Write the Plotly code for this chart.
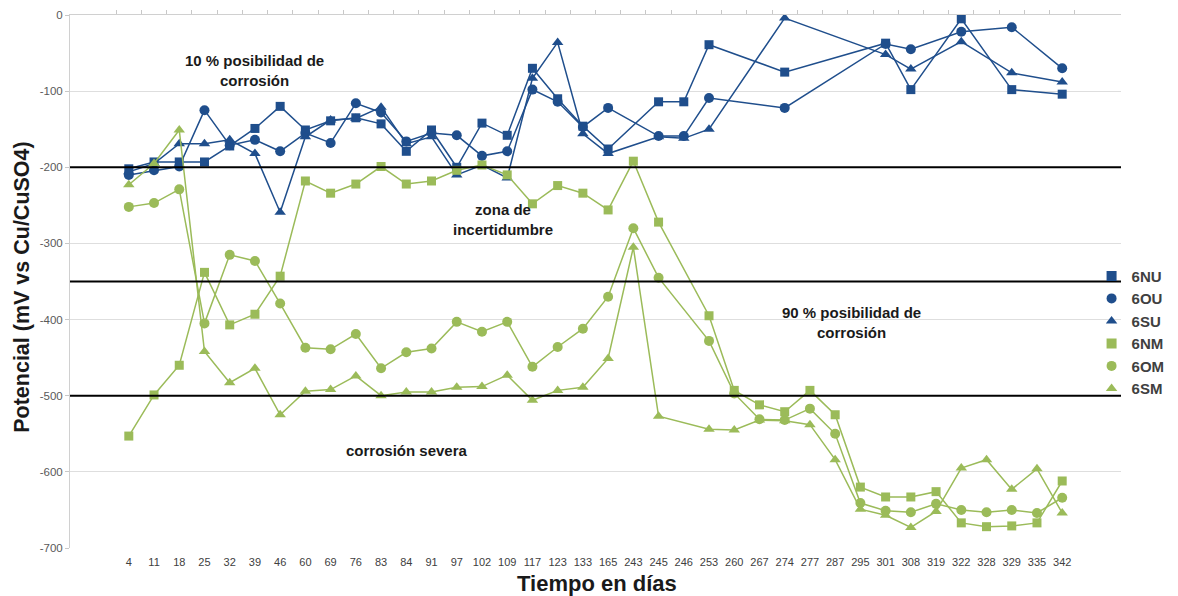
import plotly.graph_objects as go

# ---------------- data ----------------
dias = ["4", "11", "18", "25", "32", "39", "46", "60", "69", "76", "83", "84", "91", "97",
        "102", "109", "117", "123", "133", "165", "243", "245", "246", "253", "260", "267",
        "274", "277", "287", "295", "301", "308", "319", "322", "328", "329", "335", "342"]

s_6NU = [-202, -193, -193, -193, -172, -149, -120, -151, -139, -135, -143, -179, -151, -200,
         -142, -158, -70, -110, -146, -176, None, -114, -114, -39, None, None,
         -75, None, None, None, -37, -98, None, -5, None, -98, None, -104]
s_6OU = [-210, -204, -199, -125, -171, -164, -179, -155, -168, -116, -128, -166, -155, -158,
         -185, -179, -98, -114, -147, -122, None, -159, -159, -109, None, None,
         -122, None, None, None, -38, -45, None, -22, None, -16, None, -70]
s_6SU = [-206, -195, -169, -169, -164, -182, -259, -160, -138, -136, -121, -169, -160, -210,
         -197, -214, -83, -36, -156, -182, None, -160, -162, -150, None, None,
         -4, None, None, None, -52, -71, None, -35, None, -76, None, -88]
s_6NM = [-553, -499, -460, -338, -407, -393, -343, -218, -234, -222, -199, -222, -218, -204,
         -197, -210, -248, -224, -234, -256, -192, -272, None, -395, -493, -512,
         -521, -493, -525, -620, -633, -633, -626, -667, -672, -671, -667, -612]
s_6OM = [-252, -247, -229, -405, -315, -323, -379, -437, -439, -419, -464, -443, -438, -403,
         -416, -403, -462, -436, -412, -370, -280, -345, None, -428, -497, -531,
         -532, -517, -550, -641, -651, -653, -642, -650, -653, -650, -654, -634]
s_6SM = [-223, -195, -151, -442, -483, -464, -525, -494, -492, -474, -500, -495, -495, -489,
         -488, -473, -506, -493, -489, -451, -305, -527, None, -544, -545, -532,
         -533, -538, -584, -649, -657, -673, -652, -595, -584, -623, -596, -654]

umbrales = [-200, -350, -500]

y_tickvals = [0, -100, -200, -300, -400, -500, -600, -700]
y_ticktext = ["0", "-100", "-200", "-300", "-400", "-500", "-600", "-700"]

series_names = ["6NU", "6OU", "6SU", "6NM", "6OM", "6SM"]
series_vals = [s_6NU, s_6OU, s_6SU, s_6NM, s_6OM, s_6SM]

BLUE = "#1F4E8C"
GREEN = "#9BBB59"
FONT = "Liberation Sans, Arial, sans-serif"

styles = [
    (BLUE, "square", 9),
    (BLUE, "circle", 10),
    (BLUE, "triangle-up", 10),
    (GREEN, "square", 9),
    (GREEN, "circle", 10),
    (GREEN, "triangle-up", 10),
]

fig = go.Figure()

for name, vals, (col, sym, sz) in zip(series_names, series_vals, styles):
    fig.add_trace(go.Scatter(
        x=dias, y=vals, name=name, mode="lines+markers",
        line=dict(color=col, width=1.5),
        marker=dict(color=col, symbol=sym, size=sz),
        connectgaps=True, showlegend=False,
    ))

# legend entries (markers only, like the original)
for name, (col, sym, sz) in zip(series_names, styles):
    fig.add_trace(go.Scatter(
        x=[None], y=[None], name=name, mode="markers",
        marker=dict(color=col, symbol=sym, size=10),
        showlegend=True, hoverinfo="skip",
    ))

# helper trace for the top axis with boundary ticks
fig.add_trace(go.Scatter(x=dias, y=[None] * len(dias), xaxis="x2", mode="lines",
                         showlegend=False, hoverinfo="skip"))

# threshold lines
for u in umbrales:
    fig.add_shape(type="line", xref="paper", x0=0, x1=1, yref="y", y0=u, y1=u,
                  line=dict(color="black", width=2))

def ann(text, x, y, size=15, angle=0):
    fig.add_annotation(text=text, xref="paper", yref="paper", x=x, y=y,
                       showarrow=False, textangle=angle,
                       font=dict(family=FONT, size=size, color="#1a1a1a"),
                       xanchor="center", yanchor="middle", align="center")

ann("<b>10 % posibilidad de<br>corrosión</b>", 0.176, 0.895)
ann("<b>zona de<br>incertidumbre</b>", 0.412, 0.617)
ann("<b>90 % posibilidad de<br>corrosión</b>", 0.744, 0.424)
ann("<b>corrosión severa</b>", 0.321, 0.182)
ann("<b>Potencial (mV vs Cu/CuSO4)</b>", -0.0457, 0.49, size=21.5, angle=-90)
ann("<b>Tiempo en días</b>", 0.501, -0.066, size=22)

fig.update_layout(
    width=1170, height=588,
    margin=dict(l=62, r=57, t=7, b=48, autoexpand=False),
    paper_bgcolor="white", plot_bgcolor="white",
    font=dict(family=FONT, color="#595959"),
    legend=dict(x=0.972, xanchor="left", y=0.405, yanchor="middle",
                font=dict(family=FONT, size=15, color="#404040", weight="bold"),
                itemwidth=30, tracegroupgap=0, bgcolor="rgba(0,0,0,0)"),
    xaxis=dict(type="category", categoryorder="array", categoryarray=dias,
               showgrid=False, showline=False, zeroline=False,
               ticks="outside", ticklen=4, tickcolor="rgba(0,0,0,0)",
               tickfont=dict(family=FONT, size=11, color="#404040")),
    xaxis2=dict(type="category", overlaying="x", side="top", matches="x", anchor="y",
                categoryorder="array", categoryarray=dias,
                showline=True, linecolor="#d0d0d0", linewidth=1,
                ticks="outside", ticklen=4, tickcolor="#c8c8c8", tickson="boundaries",
                showticklabels=False, showgrid=False, zeroline=False),
    yaxis=dict(range=[-700, 0], tickmode="array", tickvals=y_tickvals, ticktext=y_ticktext,
               showgrid=True, gridcolor="#dedede",
               gridwidth=1, zeroline=False, showline=True, linecolor="#d0d0d0",
               ticks="outside", ticklen=4, tickcolor="#c8c8c8",
               tickfont=dict(family=FONT, size=11.5, color="#595959")),
)

fig.write_html("out.html")
